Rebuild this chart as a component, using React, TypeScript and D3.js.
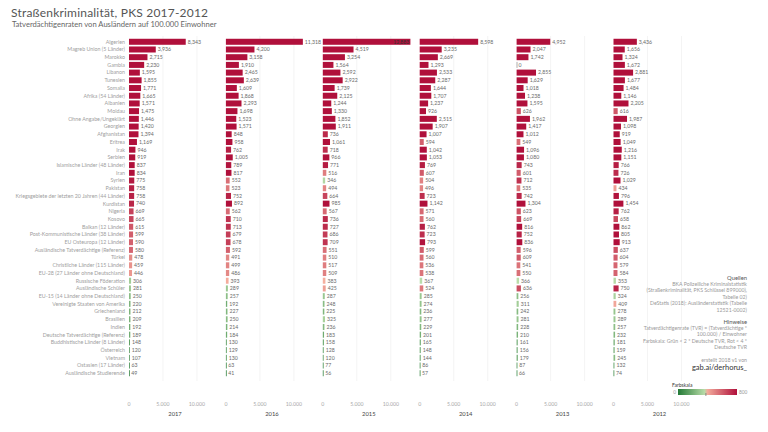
import React from "react";
import * as d3 from "d3";

const categories = [
  "Algerien", "Magreb Union (5 Länder)", "Marokko", "Gambia", "Libanon", "Tunesien", "Somalia",
  "Afrika (54 Länder)", "Albanien", "Moldau", "Ohne Angabe/Ungeklärt", "Georgien", "Afghanistan",
  "Eritrea", "Irak", "Serbien", "Islamische Länder (48 Länder)", "Iran", "Syrien", "Pakistan",
  "Kriegsgebiete der letzten 20 Jahren (44 Länder)", "Kurdistan", "Nigeria", "Kosovo",
  "Balkan (12 Länder)", "Post-Kommunistische Länder (38 Länder)", "EU Osteuropa (12 Länder)",
  "Ausländische Tatverdächtige (Referenz)", "Türkei", "Christliche Länder (115 Länder)",
  "EU-28 (27 Länder ohne Deutschland)", "Russische Föderation", "Ausländische Schüler",
  "EU-15 (14 Länder ohne Deutschland)", "Vereinigte Staaten von Amerika", "Griechenland",
  "Brasilien", "Indien", "Deutsche Tatverdächtige (Referenz)", "Buddhistische Länder (8 Länder)",
  "Österreich", "Vietnam", "Ostasien (17 Länder)", "Ausländische Studierende",
];

const years = ["2017", "2016", "2015", "2014", "2013", "2012"];

const v2017 = [8343, 3936, 2715, 2230, 1595, 1855, 1771, 1665, 1571, 1475, 1446, 1420, 1394, 1169, 946, 919, 837, 834, 775, 758, 758, 740, 669, 665, 615, 599, 590, 580, 478, 459, 446, 306, 281, 250, 220, 212, 209, 192, 189, 148, 120, 107, 63, 49];
const v2016 = [11318, 4200, 3158, 1910, 2465, 2639, 1609, 1868, 2293, 1698, 1523, 1571, 848, 958, 762, 1005, 789, 817, 552, 523, 752, 892, 562, 710, 713, 679, 678, 592, 491, 499, 486, 393, 289, 257, 192, 227, 250, 214, 184, 130, 129, 130, 63, 41];
const v2015 = [12883, 4519, 3254, 1564, 2592, 2922, 1739, 2125, 1244, 1330, 1852, 1911, 736, 1061, 718, 966, 771, 516, 346, 494, 664, 985, 567, 736, 727, 686, 709, 551, 510, 517, 509, 383, 425, 287, 248, 225, 325, 236, 183, 158, 128, 120, 77, 56];
const v2014 = [8598, 3235, 2669, 1293, 2533, 2287, 1644, 1707, 1237, 926, 2515, 1907, 1007, 594, 1042, 1053, 769, 607, 504, 496, 723, 1142, 571, 560, 762, 723, 793, 599, 560, 536, 538, 367, 524, 285, 274, 236, 277, 229, 201, 165, 148, 144, 86, 57];
const v2013 = [4952, 2047, 1742, 0, 2855, 1629, 1018, 1238, 1595, 626, 1962, 1417, 1012, 549, 1096, 1080, 743, 601, 712, 535, 742, 1304, 623, 669, 816, 752, 836, 596, 609, 541, 550, 366, 636, 256, 311, 242, 281, 228, 210, 161, 156, 179, 87, 66];
const v2012 = [3436, 1656, 1324, 1672, 2881, 1677, 1484, 1146, 2205, 616, 1987, 1098, 919, 1049, 1216, 1151, 766, 726, 1029, 434, 796, 1454, 762, 658, 862, 805, 913, 637, 604, 579, 584, 353, 750, 324, 409, 278, 289, 257, 232, 181, 159, 245, 132, 74];

const seriesValues = [v2017, v2016, v2015, v2014, v2013, v2012];
const axisTicks = [0, 5000, 10000];
const axisTickLabels = ["0", "5.000", "10.000"];

const sources = [
  "BKA Polizeiliche Kriminalstatistik",
  "(Straßenkriminalität, PKS Schlüssel 899000),",
  "Tabelle 02)",
  "DeStatis (2018): Ausländerstatistik (Tabelle",
  "12521-0002)",
];
const notes = [
  "Tatverdächtigenrate (TVR) = (Tatverdächtige *",
  "100.000) / Einwohner",
  "Farbskala: Grün < 2 * Deutsche TVR, Rot < 4 *",
  "Deutsche TVR",
];

const FONT = "Lato, 'Open Sans', sans-serif";

const green = d3.interpolateRgb("#237a36", "#bfe0ae");
const red = d3.interpolateRgb("#f6b2a0", "#b0103b");
const color = (v: number) => {
  const mid = 378;
  if (v <= mid) return green(Math.max(0, v) / mid);
  return red(Math.min(1, (v - mid) / (800 - mid)));
};

export default function App() {
  const W = 768, H = 432;
  const y = d3.scaleBand<string>().domain(categories).range([38, 377]).paddingInner(0.22).paddingOuter(0.1);
  const panelX0 = (i: number) => 129 + i * 96.9;
  const x = d3.scaleLinear().domain([0, 5000]).range([0, 34]);
  const fmt = d3.format(",");
  const gradStops = d3.range(0, 1.0001, 0.05).map((t) => ({ t, c: color(t * 800) }));

  return (
    <svg width={W} height={H} style={{ position: "absolute", left: 0, top: 0, background: "#fff" }} fontFamily={FONT}>
      <defs>
        <linearGradient id="leg" x1="0" x2="1" y1="0" y2="0">
          {gradStops.map((s, i) => (
            <stop key={i} offset={s.t} stopColor={s.c} />
          ))}
        </linearGradient>
      </defs>
      <text x={11} y={17} fontSize={12} fill="#555" letterSpacing={0.2}>Straßenkriminalität, PKS 2017-2012</text>
      <text x={12} y={27} fontSize={7.6} fill="#666">Tatverdächtigenraten von Ausländern auf 100.000 Einwohner</text>

      {categories.map((c) => (
        <text key={c} x={125} y={(y(c) as number) + y.bandwidth() / 2} dy="0.35em" textAnchor="end" fontSize={5.3} fill="#a0a0a0">
          {c}
        </text>
      ))}

      {years.map((yr, i) => {
        const x0 = panelX0(i);
        const vals = seriesValues[i];
        return (
          <g key={yr}>
            {axisTicks.slice(1).map((t) => (
              <line key={t} x1={x0 + x(t)} x2={x0 + x(t)} y1={36} y2={381} stroke="#efefef" strokeWidth={0.7} />
            ))}
            {categories.map((c, j) => {
              const v = vals[j];
              const w = x(v);
              const yy = y(c) as number;
              const inside = v > 12000;
              return (
                <g key={c}>
                  <rect x={x0} y={yy} width={Math.max(w, 0.8)} height={y.bandwidth()} fill={v === 0 ? "#999" : color(v)} />
                  <text
                    x={inside ? x0 + w - 1 : x0 + w + 2}
                    y={yy + y.bandwidth() / 2}
                    dy="0.35em"
                    textAnchor={inside ? "end" : "start"}
                    fontSize={5.2}
                    fill={inside ? "#333" : "#6a6a6a"}
                  >
                    {fmt(v)}
                  </text>
                </g>
              );
            })}
            {axisTicks.map((t, k) => (
              <text key={t} x={x0 + x(t)} y={406} textAnchor="middle" fontSize={5.2} fill="#aaa">
                {axisTickLabels[k]}
              </text>
            ))}
            <text x={x0 + 46} y={416} textAnchor="middle" fontSize={5.8} fill="#444">{yr}</text>
          </g>
        );
      })}

      <g fontSize={5.2} fill="#999" textAnchor="end">
        <text x={747} y={280} fill="#555" fontSize={5.8}>Quellen</text>
        {sources.map((s, i) => (
          <text key={s} x={747} y={286 + i * 6.4}>{s}</text>
        ))}
        <text x={747} y={324} fill="#555" fontSize={5.8}>Hinweise</text>
        {notes.map((s, i) => (
          <text key={s} x={747} y={330 + i * 6.4}>{s}</text>
        ))}
        <text x={747} y={362}>erstellt 2018 v1 von</text>
        <text x={747} y={370} fill="#333" fontSize={7.5}>gab.ai/derhorus_</text>
      </g>

      <text x={672} y={387} fontSize={5} fill="#333">Farbskala</text>
      <rect x={678} y={389} width={59} height={6} fill="url(#leg)" />
      <line x1={678 + 59 * (378 / 800)} x2={678 + 59 * (378 / 800)} y1={393} y2={396} stroke="#777" strokeWidth={0.8} />
      <text x={676} y={394} textAnchor="end" fontSize={4.8} fill="#999">0</text>
      <text x={739} y={394} fontSize={4.8} fill="#999">800</text>
    </svg>
  );
}
